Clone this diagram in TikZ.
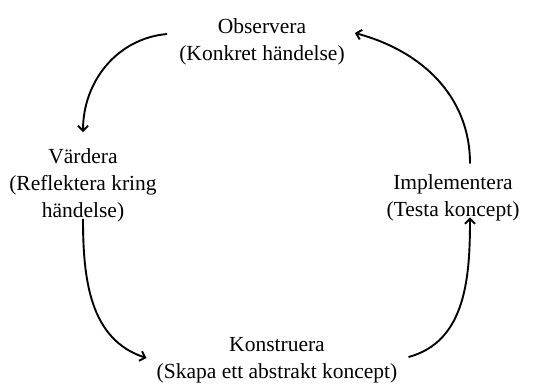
\documentclass[tikz,border=0pt]{standalone}
\usepackage{fontspec}
\setmainfont{Liberation Serif}
\usetikzlibrary{arrows.meta}
\begin{document}
\begin{tikzpicture}[x=1pt,y=1pt,
  lbl/.style={align=center,inner sep=0pt,font=\fontsize{21.5}{27}\selectfont},
  arr/.style={line width=1.9pt,-{Straight Barb[length=5pt,width=10pt,line width=1.9pt]}}]
\useasboundingbox (0,0) rectangle (545,-383);
\node[lbl] (obs) at (262,-42) {Observera\\(Konkret händelse)};
\node[lbl] (var) at (83,-185) {Värdera\\(Reflektera kring\\händelse)};
\node[lbl] (imp) at (453,-198) {Implementera\\(Testa koncept)};
\node[lbl] (kon) at (277,-360) {Konstruera\\(Skapa ett abstrakt koncept)};
\draw[arr] ([xshift=-12pt,yshift=8pt]obs.west) to[out=185,in=90] ([yshift=16pt]var.north);
\draw[arr] ([yshift=3pt]var.south) to[out=-90,in=162] ([xshift=-10pt,yshift=2pt]kon.west);
\draw[arr] ([xshift=11pt,yshift=3pt]kon.east) to[out=15,in=-90] ([xshift=17pt,yshift=4pt]imp.south);
\draw[arr] ([xshift=17pt,yshift=11pt]imp.north) to[out=90,in=-15] ([xshift=10pt,yshift=9pt]obs.east);
\end{tikzpicture}
\end{document}
